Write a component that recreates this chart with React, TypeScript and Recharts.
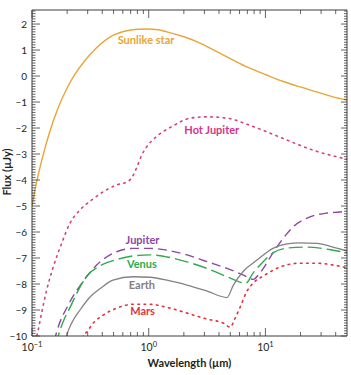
import { LineChart, Line, XAxis, YAxis, ReferenceDot } from 'recharts';

// wavelength in µm, flux as log10(µJy)
const sunWave = [0.1, 0.1067, 0.1164, 0.1285, 0.1463, 0.167, 0.197, 0.232, 0.283, 0.356, 0.494, 0.65, 0.8, 0.97, 1.2, 1.43, 2.0, 2.75, 3.8, 5.26, 7.2, 10.2, 14, 19.8, 28, 38, 50];
const sunFlux = [-5.0, -4.32, -3.56, -2.81, -1.96, -1.24, -0.52, 0.05, 0.59, 1.08, 1.56, 1.74, 1.8, 1.81, 1.78, 1.7, 1.51, 1.27, 0.95, 0.62, 0.32, 0.04, -0.2, -0.42, -0.62, -0.8, -0.92];

const hotJupiterWave = [0.105, 0.1097, 0.121, 0.1336, 0.152, 0.18, 0.212, 0.258, 0.335, 0.423, 0.532, 0.668, 0.738, 0.805, 0.871, 0.962, 1.15, 1.616, 2.26, 3.16, 4.69, 7.2, 13.3, 25.6, 50];
const hotJupiterFlux = [-10.2, -10.0, -9.1, -8.23, -7.35, -6.42, -5.65, -5.15, -4.72, -4.41, -4.19, -4.05, -3.81, -3.42, -3.04, -2.72, -2.35, -1.92, -1.62, -1.57, -1.62, -1.88, -2.35, -2.85, -3.2];

const jupiterWave = [0.155, 0.163, 0.205, 0.267, 0.358, 0.532, 0.733, 1.026, 1.435, 2.13, 3.16, 4.69, 6.43, 7.9, 8.7, 9.53, 11.6, 13.9, 17.3, 24.1, 33.7, 43.5, 50];
const jupiterFlux = [-10.2, -9.83, -8.8, -7.97, -7.27, -6.76, -6.63, -6.63, -6.7, -6.88, -7.14, -7.4, -7.65, -7.82, -7.65, -7.42, -6.8, -6.3, -5.8, -5.42, -5.27, -5.23, -5.2];

const venusWave = [0.16, 0.168, 0.185, 0.212, 0.242, 0.294, 0.383, 0.532, 0.733, 1.026, 1.435, 2.13, 3.16, 4.69, 6.8, 7.83, 9.53, 11.6, 15.3, 21.0, 29.4, 38, 50];
const venusFlux = [-10.4, -10.0, -9.45, -8.9, -8.35, -7.7, -7.3, -7.06, -6.92, -6.88, -6.96, -7.15, -7.4, -7.72, -7.97, -7.58, -7.15, -6.8, -6.62, -6.58, -6.62, -6.7, -6.8];

const earthWave = [0.19, 0.198, 0.219, 0.258, 0.314, 0.39, 0.494, 0.733, 1.026, 1.435, 2.13, 3.16, 4.69, 5.3, 6.5, 8.47, 11.6, 15.3, 19.8, 27.7, 38, 50];
const earthFlux = [-10.4, -10.0, -9.5, -9.0, -8.5, -8.15, -7.85, -7.72, -7.74, -7.85, -8.04, -8.27, -8.52, -8.05, -7.5, -7.08, -6.63, -6.46, -6.42, -6.44, -6.58, -6.73];

const marsWave = [0.26, 0.274, 0.294, 0.335, 0.406, 0.532, 0.733, 1.026, 1.435, 2.13, 3.16, 4.34, 5.0, 5.45, 6.06, 6.9, 7.9, 9.53, 13.3, 19.8, 27.7, 38, 50];
const marsFlux = [-10.3, -10.0, -9.85, -9.5, -9.2, -8.93, -8.78, -8.78, -8.9, -9.12, -9.35, -9.5, -9.66, -9.35, -8.9, -8.3, -7.95, -7.7, -7.35, -7.2, -7.2, -7.27, -7.38];

const decadeTicks = [0.1, 1, 10];
const minorWaveTicks = [0.2, 0.3, 0.4, 0.5, 0.6, 0.7, 0.8, 0.9, 2, 3, 4, 5, 6, 7, 8, 9, 20, 30, 40];
const fluxLabels = [2, 1, 0, -1, -2, -3, -4, -5, -6, -7, -8, -9, -10];

const waveTicks = [...decadeTicks, ...minorWaveTicks].sort((a, b) => a - b);
// minor flux ticks every 0.1 dex
const fluxTicks: number[] = [];
for (let i = -100; i <= 25; i++) fluxTicks.push(i / 10);

const toPoints = (wave: number[], flux: number[]) => wave.map((w, i) => ({ wave: w, flux: flux[i] }));

const series = [
  { name: 'Sunlike star', data: toPoints(sunWave, sunFlux), color: '#E9A43A', dash: undefined, width: 1.4 },
  { name: 'Hot Jupiter', data: toPoints(hotJupiterWave, hotJupiterFlux), color: '#D5417F', dash: '1.6 4.6', width: 1.6 },
  { name: 'Jupiter', data: toPoints(jupiterWave, jupiterFlux), color: '#8D47A0', dash: '9 5', width: 1.4 },
  { name: 'Venus', data: toPoints(venusWave, venusFlux), color: '#2EAB4C', dash: '14 5', width: 1.4 },
  { name: 'Earth', data: toPoints(earthWave, earthFlux), color: '#878081', dash: undefined, width: 1.3 },
  { name: 'Mars', data: toPoints(marsWave, marsFlux), color: '#E2313B', dash: '1.6 4.6', width: 1.6 },
];

// label anchors in data space
const labels = [
  { text: 'Sunlike star', wave: 0.948, flux: 1.37, color: '#E9A43A' },
  { text: 'Hot Jupiter', wave: 3.47, flux: -2.08, color: '#D6338A' },
  { text: 'Jupiter', wave: 0.885, flux: -6.31, color: '#8D47A0' },
  { text: 'Venus', wave: 0.875, flux: -7.23, color: '#2EAB4C' },
  { text: 'Earth', wave: 0.875, flux: -8.04, color: '#857D7E' },
  { text: 'Mars', wave: 0.885, flux: -9.04, color: '#E2313B' },
];

const FONT = 'Lato, "Open Sans", sans-serif';
const AXIS = '#3c3c3c';
const TEXT = '#231f20';

const isMajorFlux = (v: number) => Math.abs(v - Math.round(v)) < 1e-6;
const isDecade = (v: number) => decadeTicks.some((d) => Math.abs(d - v) < 1e-9);
const minus = (n: number) => (n < 0 ? `\u2212${-n}` : `${n}`);

const LeftTick = ({ x, y, payload }: any) => {
  const v = payload.value;
  const major = isMajorFlux(v);
  const edge = x + 5;
  return (
    <g>
      <line x1={edge} x2={edge + (major ? 8 : 3.5)} y1={y} y2={y} stroke={AXIS} strokeWidth={0.8} />
      {major && fluxLabels.includes(Math.round(v)) && (
        <text x={x} y={y} dy={3.6} textAnchor="end" fontSize={10} fontFamily={FONT} fill={TEXT}>
          {minus(Math.round(v))}
        </text>
      )}
    </g>
  );
};

const RightTick = ({ x, y, payload }: any) => {
  const major = isMajorFlux(payload.value);
  return <line x1={x} x2={x - (major ? 6 : 3)} y1={y} y2={y} stroke={AXIS} strokeWidth={0.8} />;
};

const BottomTick = ({ x, y, payload }: any) => {
  const v = payload.value;
  const major = isDecade(v);
  const edge = y - 4;
  const exp = Math.round(Math.log10(v));
  return (
    <g>
      <line x1={x} x2={x} y1={edge} y2={edge - (major ? 8 : 4)} stroke={AXIS} strokeWidth={0.8} />
      {major && (
        <text x={x} y={edge + 15} textAnchor="middle" fontSize={10.5} fontFamily={FONT} fill={TEXT}>
          10
          <tspan dy={-4.5} fontSize={7.5}>{minus(exp)}</tspan>
        </text>
      )}
    </g>
  );
};

const TopTick = ({ x, y, payload }: any) => {
  const major = isDecade(payload.value);
  return <line x1={x} x2={x} y1={y} y2={y + (major ? 8 : 4)} stroke={AXIS} strokeWidth={0.8} />;
};

export default function App() {
  return (
    <div style={{ position: 'absolute', left: 0, top: 0, background: '#fff' }}>
      <LineChart width={351} height={375} margin={{ top: 0, right: 0, bottom: 0, left: 0 }}>
        <XAxis
          dataKey="wave"
          type="number"
          scale="log"
          domain={[0.1, 50]}
          allowDataOverflow
          ticks={waveTicks}
          interval={0}
          height={39}
          tickSize={0}
          tickMargin={4}
          tickLine={false}
          axisLine={{ stroke: AXIS, strokeWidth: 1 }}
          tick={<BottomTick />}
          label={{
            value: 'Wavelength (µm)',
            position: 'insideBottom',
            offset: 8,
            style: { fill: TEXT, fontSize: 11, fontWeight: 'bold', fontFamily: FONT },
          }}
        />
        <XAxis
          xAxisId="top"
          orientation="top"
          dataKey="wave"
          type="number"
          scale="log"
          domain={[0.1, 50]}
          allowDataOverflow
          ticks={waveTicks}
          interval={0}
          height={10}
          tickSize={0}
          tickMargin={0}
          tickLine={false}
          axisLine={{ stroke: AXIS, strokeWidth: 1 }}
          tick={<TopTick />}
        />
        <YAxis
          type="number"
          domain={[-10, 2.54]}
          allowDataOverflow
          ticks={fluxTicks}
          interval={0}
          width={32}
          tickSize={0}
          tickMargin={5}
          tickLine={false}
          axisLine={{ stroke: AXIS, strokeWidth: 1 }}
          tick={<LeftTick />}
          label={{
            content: () => (
              <text
                x={11}
                y={172}
                transform="rotate(-90 11 172)"
                textAnchor="middle"
                fontSize={11}
                fontWeight="bold"
                fontFamily={FONT}
                fill={TEXT}
              >
                Flux (µJy)
              </text>
            ),
          }}
        />
        <YAxis
          yAxisId="right"
          orientation="right"
          type="number"
          domain={[-10, 2.54]}
          allowDataOverflow
          ticks={fluxTicks}
          interval={0}
          width={4}
          tickSize={0}
          tickMargin={0}
          tickLine={false}
          axisLine={{ stroke: AXIS, strokeWidth: 1 }}
          tick={<RightTick />}
        />
        {series.map((s) => (
          <Line
            key={s.name}
            data={s.data}
            dataKey="flux"
            name={s.name}
            type="monotone"
            stroke={s.color}
            strokeWidth={s.width}
            strokeDasharray={s.dash}
            strokeLinecap={s.dash && s.dash.startsWith('1.6') ? 'round' : 'butt'}
            dot={false}
            activeDot={false}
            isAnimationActive={false}
          />
        ))}
        {labels.map((l) => (
          <ReferenceDot
            key={l.text}
            x={l.wave}
            y={l.flux}
            r={0}
            stroke="none"
            fill="none"
            label={{
              value: l.text,
              position: 'center',
              style: { fill: l.color, fontSize: 11, fontWeight: 'bold', fontFamily: FONT },
            }}
          />
        ))}
      </LineChart>
    </div>
  );
}
